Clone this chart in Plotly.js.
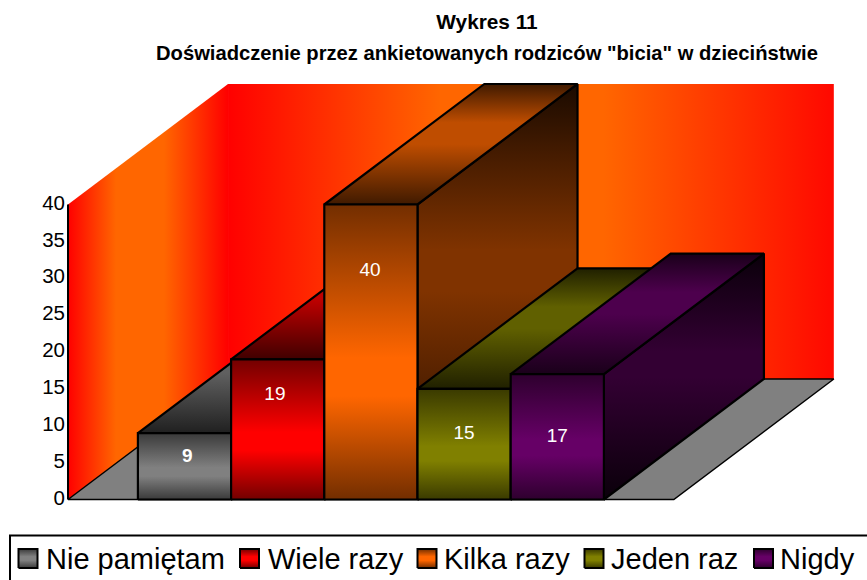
<!DOCTYPE html>
<html><head><meta charset="utf-8">
<script src="https://cdn.plot.ly/plotly-3.0.1.min.js"></script>
<style>html,body{margin:0;padding:0;background:#fff;overflow:hidden}</style>
</head><body><div id="chart" style="width:867px;height:580px"></div>
<script>
const categories = ["Nie pamiętam", "Wiele razy", "Kilka razy", "Jeden raz", "Nigdy"];
const values = [9, 19, 40, 15, 17];
const labelHeights = [5.7, 14.2, 31.0, 8.8, 8.5];
const labelCenters = [0.53, 0.47, 0.49, 0.5, 0.5];
const baseColors = ["#808080", "#ff0000", "#ff6600", "#808000", "#660066"];
const yTicks = [0, 5, 10, 15, 20, 25, 30, 35, 40];
const legendKeyLeft = [18.5, 240, 417.5, 584.5, 754];
const legendTextLeft = [44, 266, 442, 609, 778];

// oblique projection offset of the chart depth, in axis units
const depthX = 1.717, depthY = 16.34;
const left = -0.75, right = 5.75, top40 = 40;
// page pixel -> axis unit (the axes span the whole page)
const pxX = p => left + (p - 68) / 93.2;
const pxY = p => (499.5 - p) / 7.375;
const paperX = p => p / 867;
const paperY = p => 1 - p / 580;

function shade(hex, k) {
  const n = parseInt(hex.slice(1), 16);
  return `rgb(${Math.round((n >> 16) * k)},${Math.round(((n >> 8) & 255) * k)},${Math.round((n & 255) * k)})`;
}
function band(hex, kMid, kEdge, p0, p1) {
  return [[0, shade(hex, kEdge)], [p0, shade(hex, kMid)], [p1, shade(hex, kMid)], [1, shade(hex, kEdge)]];
}
function poly(xs, ys, scale, dir, lineW, name) {
  const t = {
    type: "scatter", mode: lineW ? "lines" : "none", x: xs.concat(xs[0]), y: ys.concat(ys[0]),
    fill: "toself", hoverinfo: "skip", showlegend: false,
    line: { color: "#000", width: lineW || 0 }, name: name || ""
  };
  if (scale) t.fillgradient = { type: dir, colorscale: scale };
  return t;
}

const traces = [];
// back wall, side wall, floor
traces.push(poly([left + depthX, right + depthX, right + depthX, left + depthX],
  [depthY, depthY, top40 + depthY, top40 + depthY],
  [[0, "#ff0000"], [0.35, "#ff6600"], [0.62, "#ff6600"], [1, "#ff0800"]], "horizontal", 0));
traces.push(poly([left, left + depthX, left + depthX, left],
  [0, depthY, top40 + depthY, top40],
  [[0, "#ff0000"], [0.3, "#ff6600"], [0.6, "#ff6600"], [1, "#ff0000"]], "horizontal", 0));
const floor = poly([left, right, right + depthX, left + depthX], [0, 0, depthY, depthY], null, null, 1.5);
floor.fillcolor = "#808080";
traces.push(floor);
traces.push({ type: "scatter", mode: "lines", x: [left, left], y: [0, top40], line: { color: "#000", width: 2 },
  hoverinfo: "skip", showlegend: false });

// bars painted left to right
values.forEach((v, i) => {
  const c = baseColors[i], x0 = i, x1 = i + 1;
  traces.push(poly([x1, x1 + depthX, x1 + depthX, x1], [0, depthY, v + depthY, v],
    band(c, 0.5, 0.1, 0.5, 0.6), "vertical", 2.2));
  traces.push(poly([x0, x1, x1 + depthX, x0 + depthX], [v, v, v + depthY, v + depthY],
    band(c, 0.75, 0.25, 0.5, 0.68), "vertical", 2.2));
  traces.push(poly([x0, x1, x1, x0], [0, 0, v, v],
    band(c, 1, 0.45, 0.35, 0.48), "vertical", 2.2));
});

// legend keys
categories.forEach((name, i) => {
  const a = legendKeyLeft[i], b = a + 19;
  traces.push(poly([pxX(a), pxX(b), pxX(b), pxX(a)], [pxY(568), pxY(568), pxY(549), pxY(549)],
    band(baseColors[i], 1, 0.45, 0.4, 0.6), "vertical", 2, name));
});

// data labels
traces.push({
  type: "scatter", mode: "text", x: values.map((_, i) => i + labelCenters[i]), y: labelHeights,
  text: values.map((v, i) => i === 0 ? "<b>" + v + "</b>" : String(v)),
  textposition: "middle center", textfont: { color: "#fff", size: 19, family: "Liberation Sans" },
  hoverinfo: "skip", showlegend: false
});

const layout = {
  width: 867, height: 580, paper_bgcolor: "#fff", plot_bgcolor: "rgba(0,0,0,0)", showlegend: false,
  margin: { l: 0, r: 0, t: 0, b: 0, pad: 0, autoexpand: false },
  font: { family: "Liberation Sans", color: "#000" },
  title: { text: "<b>Wykres 11</b>", font: { size: 20.8, family: "Liberation Sans", color: "#000" },
    x: 487 / 867, xanchor: "center", y: 1 - 22 / 580, yanchor: "middle" },
  xaxis: { range: [pxX(0), pxX(867)], visible: false, fixedrange: true },
  yaxis: { range: [pxY(580), pxY(0)], anchor: "free", position: paperX(68), side: "left",
    tickmode: "array", tickvals: yTicks, ticks: "", showgrid: false, ticklabelstandoff: 3, ticklabelshift: -2,
    zeroline: false, showline: false, tickfont: { size: 20.5, family: "Liberation Sans", color: "#000" }, fixedrange: true },
  annotations: [{ xref: "paper", yref: "paper", x: paperX(487.5), y: paperY(53), xanchor: "center", yanchor: "middle",
    showarrow: false, text: "<b>Doświadczenie przez ankietowanych rodziców \"bicia\" w dzieciństwie</b>",
    font: { size: 20.2, family: "Liberation Sans", color: "#000" } }].concat(
    categories.map((name, i) => ({ xref: "paper", yref: "paper", x: paperX(legendTextLeft[i]), y: paperY(559),
      xanchor: "left", yanchor: "middle", showarrow: false, text: name,
      font: { size: 29, family: "Liberation Sans", color: "#000" } }))),
  shapes: [{ type: "rect", xref: "paper", yref: "paper", x0: paperX(10), x1: 1.2, y0: -0.2, y1: paperY(535.5),
    line: { color: "#000", width: 2 }, fillcolor: "#fff", layer: "below" }],
  hovermode: false
};
Plotly.newPlot("chart", traces, layout, { displayModeBar: false, staticPlot: true });
</script></body></html>
